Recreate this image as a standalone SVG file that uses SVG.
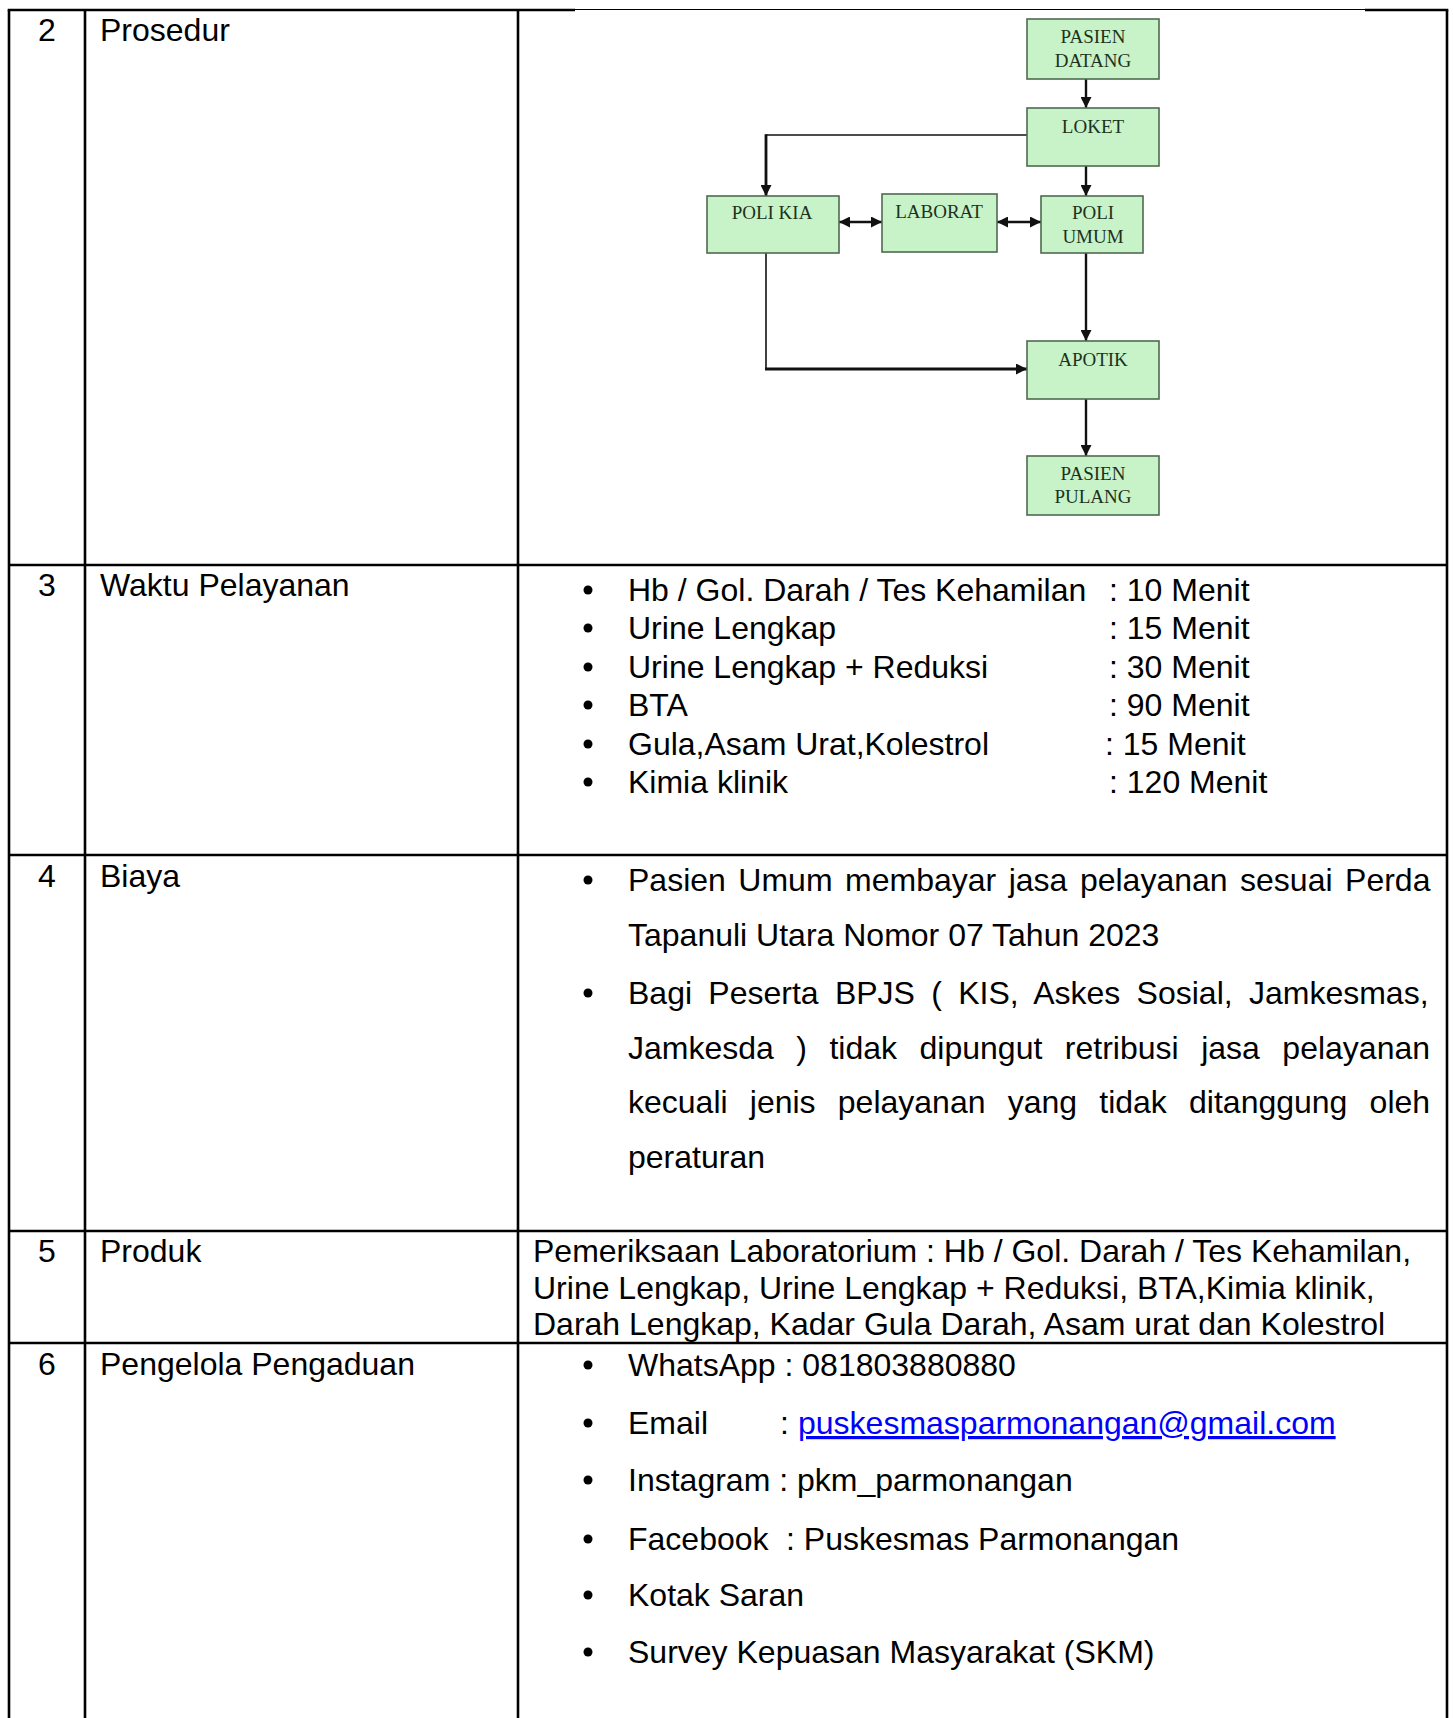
<svg xmlns="http://www.w3.org/2000/svg" width="1453" height="1718" viewBox="0 0 1453 1718">
<defs>
<style>
.t{font-family:"Liberation Sans",Arial,sans-serif;font-size:32px;fill:#000}
.b{font-family:"Liberation Serif","Times New Roman",serif;font-size:19px;fill:#1c321c;text-anchor:middle}
.box{fill:#c8f2c8;stroke:#4f6a4f;stroke-width:1.6}
.grid{stroke:#000;stroke-width:2.6;fill:none}
.ln{stroke:#111;fill:none}
.lnk{fill:#0000ff;text-decoration:underline}
</style>
<marker id="ah" viewBox="0 0 10 10" refX="10" refY="5" markerWidth="11" markerHeight="11" markerUnits="userSpaceOnUse" orient="auto-start-reverse">
<path d="M0,0 L10,5 L0,10 z" fill="#111"/>
</marker>
</defs>
<rect width="1453" height="1718" fill="#fff"/>

<g id="table">
<line class="grid" x1="7.7" y1="10" x2="575" y2="10"/>
<line x1="575" y1="9.5" x2="1365" y2="9.5" stroke="#000" stroke-width="1.2"/>
<line class="grid" x1="1365" y1="10" x2="1448.3" y2="10"/>
<line class="grid" x1="9" y1="10" x2="9" y2="1718"/>
<line class="grid" x1="85" y1="10" x2="85" y2="1718"/>
<line class="grid" x1="518" y1="10" x2="518" y2="1718"/>
<line class="grid" x1="1447" y1="10" x2="1447" y2="1718"/>
<line class="grid" x1="9" y1="565" x2="1447" y2="565"/>
<line class="grid" x1="9" y1="855" x2="1447" y2="855"/>
<line class="grid" x1="9" y1="1231" x2="1447" y2="1231"/>
<line class="grid" x1="9" y1="1343" x2="1447" y2="1343"/>
</g>

<g id="labels">
<text class="t" x="47" y="41" text-anchor="middle">2</text>
<text class="t" x="100" y="41">Prosedur</text>
<text class="t" x="47" y="596" text-anchor="middle">3</text>
<text class="t" x="100" y="596">Waktu Pelayanan</text>
<text class="t" x="47" y="887" text-anchor="middle">4</text>
<text class="t" x="100" y="887">Biaya</text>
<text class="t" x="47" y="1262" text-anchor="middle">5</text>
<text class="t" x="100" y="1262">Produk</text>
<text class="t" x="47" y="1375" text-anchor="middle">6</text>
<text class="t" x="100" y="1375">Pengelola Pengaduan</text>
</g>

<g id="waktu">
<circle cx="588" cy="590" r="4.5"/><text class="t" x="628" y="601">Hb / Gol. Darah / Tes Kehamilan</text><text class="t" x="1109" y="601">: 10 Menit</text>
<circle cx="588" cy="628" r="4.5"/><text class="t" x="628" y="639">Urine Lengkap</text><text class="t" x="1109" y="639">: 15 Menit</text>
<circle cx="588" cy="667" r="4.5"/><text class="t" x="628" y="678">Urine Lengkap + Reduksi</text><text class="t" x="1109" y="678">: 30 Menit</text>
<circle cx="588" cy="705" r="4.5"/><text class="t" x="628" y="716">BTA</text><text class="t" x="1109" y="716">: 90 Menit</text>
<circle cx="588" cy="744" r="4.5"/><text class="t" x="628" y="755">Gula,Asam Urat,Kolestrol</text><text class="t" x="1105" y="755">: 15 Menit</text>
<circle cx="588" cy="782" r="4.5"/><text class="t" x="628" y="793">Kimia klinik</text><text class="t" x="1109" y="793">: 120 Menit</text>
</g>

<g id="biaya">
<circle cx="588" cy="880" r="4.5"/>
<text class="t" x="628" y="891" word-spacing="3.6">Pasien Umum membayar jasa pelayanan sesuai Perda</text>
<text class="t" x="628" y="946">Tapanuli Utara Nomor 07 Tahun 2023</text>
<circle cx="588" cy="993" r="4.5"/>
<text class="t" x="628" y="1004" word-spacing="7.4">Bagi Peserta BPJS ( KIS, Askes Sosial, Jamkesmas,</text>
<text class="t" x="628" y="1059" word-spacing="13.6">Jamkesda ) tidak dipungut retribusi jasa pelayanan</text>
<text class="t" x="628" y="1113" word-spacing="13.3">kecuali jenis pelayanan yang tidak ditanggung oleh</text>
<text class="t" x="628" y="1168">peraturan</text>
</g>

<g id="produk">
<text class="t" x="533" y="1262">Pemeriksaan Laboratorium : Hb / Gol. Darah / Tes Kehamilan,</text>
<text class="t" x="533" y="1299">Urine Lengkap, Urine Lengkap + Reduksi, BTA,Kimia klinik,</text>
<text class="t" x="533" y="1335">Darah Lengkap, Kadar Gula Darah, Asam urat dan Kolestrol</text>
</g>

<g id="pengaduan">
<circle cx="588" cy="1365" r="4.5"/><text class="t" x="628" y="1376">WhatsApp : 081803880880</text>
<circle cx="588" cy="1423" r="4.5"/><text class="t" x="628" y="1434">Email</text><text class="t" x="780" y="1434">:</text><text class="t lnk" x="798" y="1434">puskesmasparmonangan@gmail.com</text>
<circle cx="588" cy="1480" r="4.5"/><text class="t" x="628" y="1491">Instagram : pkm_parmonangan</text>
<circle cx="588" cy="1539" r="4.5"/><text class="t" x="628" y="1550">Facebook</text><text class="t" x="786" y="1550">: Puskesmas Parmonangan</text>
<circle cx="588" cy="1595" r="4.5"/><text class="t" x="628" y="1606">Kotak Saran</text>
<circle cx="588" cy="1652" r="4.5"/><text class="t" x="628" y="1663">Survey Kepuasan Masyarakat (SKM)</text>
</g>

<g id="connectors">
<line class="ln" x1="1086" y1="79" x2="1086" y2="108" stroke-width="2.4" marker-end="url(#ah)"/>
<line class="ln" x1="1086" y1="166" x2="1086" y2="196" stroke-width="2.4" marker-end="url(#ah)"/>
<polyline class="ln" points="1027,135 766,135" stroke-width="1.6" stroke="#333"/>
<line class="ln" x1="766" y1="134.2" x2="766" y2="196" stroke-width="2.8" marker-end="url(#ah)"/>
<line class="ln" x1="839" y1="222" x2="882" y2="222" stroke-width="2.4" marker-start="url(#ah)" marker-end="url(#ah)"/>
<line class="ln" x1="997" y1="222" x2="1041" y2="222" stroke-width="2.4" marker-start="url(#ah)" marker-end="url(#ah)"/>
<line class="ln" x1="1086" y1="253" x2="1086" y2="341" stroke-width="2.4" marker-end="url(#ah)"/>
<line class="ln" x1="766" y1="253" x2="766" y2="369" stroke-width="1.6" stroke="#333"/>
<line class="ln" x1="765" y1="369" x2="1027" y2="369" stroke-width="2.8" marker-end="url(#ah)"/>
<line class="ln" x1="1086" y1="399" x2="1086" y2="456" stroke-width="2.4" marker-end="url(#ah)"/>
</g>

<g id="pasien-datang"><rect class="box" x="1027" y="19" width="132" height="60"/><text class="b" x="1093" y="43">PASIEN</text><text class="b" x="1093" y="67">DATANG</text></g>
<g id="loket"><rect class="box" x="1027" y="108" width="132" height="58"/><text class="b" x="1093" y="133">LOKET</text></g>
<g id="poli-kia"><rect class="box" x="707" y="196" width="132" height="57"/><text class="b" x="772" y="219">POLI KIA</text></g>
<g id="laborat"><rect class="box" x="882" y="194" width="115" height="58"/><text class="b" x="939" y="218">LABORAT</text></g>
<g id="poli-umum"><rect class="box" x="1041" y="196" width="102" height="57"/><text class="b" x="1093" y="219">POLI</text><text class="b" x="1093" y="243">UMUM</text></g>
<g id="apotik"><rect class="box" x="1027" y="341" width="132" height="58"/><text class="b" x="1093" y="366">APOTIK</text></g>
<g id="pasien-pulang"><rect class="box" x="1027" y="456" width="132" height="59"/><text class="b" x="1093" y="480">PASIEN</text><text class="b" x="1093" y="503">PULANG</text></g>
</svg>
